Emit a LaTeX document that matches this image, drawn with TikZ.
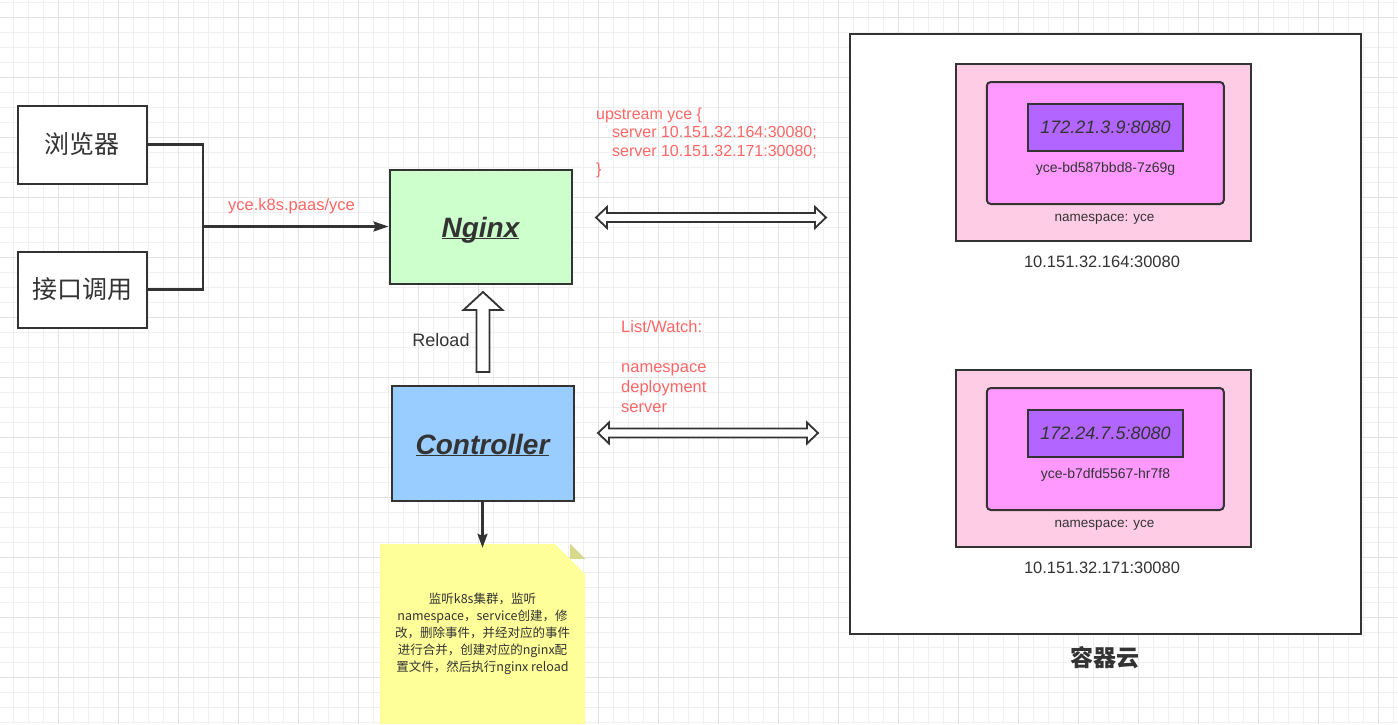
\documentclass[tikz,border=0pt]{standalone}
\usepackage{fontspec}
\setmainfont{Liberation Sans}
\newfontfamily\cjk{Noto Sans CJK SC}
\usetikzlibrary{arrows.meta,calc,shapes.misc}

\definecolor{linegray}{HTML}{333333}
\definecolor{redtext}{HTML}{FF6666}
\definecolor{nginxgreen}{HTML}{CCFFCC}
\definecolor{ctrlblue}{HTML}{99CCFF}
\definecolor{noteyellow}{HTML}{FFFF99}
\definecolor{notefold}{HTML}{D9D98C}
\definecolor{nspink}{HTML}{FFCCE6}
\definecolor{podpink}{HTML}{FF99FF}
\definecolor{ippurple}{HTML}{B266FF}
\definecolor{gridminor}{HTML}{F0F0F0}
\definecolor{gridmajor}{HTML}{E2E2E2}

\begin{document}
\begin{tikzpicture}[x=1pt,y=-1pt,
    box/.style={draw=linegray,line width=2pt,fill=white,inner sep=0pt,text=linegray},
    conn/.style={draw=linegray,line width=2.2pt},
    blockarrow/.style={draw=linegray,line width=1.8pt,fill=white,line join=miter},
    redlabel/.style={text=redtext,align=left,inner sep=0pt,font=\fontsize{16}{18.5}\selectfont},
    graylabel/.style={text=linegray,inner sep=0pt},
    boldtitle/.style={font=\fontsize{28}{32}\selectfont\bfseries\itshape,text height=21pt,text depth=0pt},
    notebox/.style={chamfered rectangle,chamfered rectangle corners=north east,chamfered rectangle sep=15pt,
        fill=noteyellow,minimum width=205pt,minimum height=180pt,inner sep=0pt,align=center,text=linegray,
        font=\cjk\fontsize{12.5}{17}\selectfont}]
    \useasboundingbox (0,0) rectangle (1398,724);
    % grid paper
    \fill[white] (0,0) rectangle (1398,724);
    \foreach \gx in {13,28,...,1398} \draw[gridminor,line width=1pt] (\gx,0) -- (\gx,724);
    \foreach \gy in {2,17,...,724} \draw[gridminor,line width=1pt] (0,\gy) -- (1398,\gy);
    \foreach \gx in {58,118,...,1398} \draw[gridmajor,line width=1pt] (\gx,0) -- (\gx,724);
    \foreach \gy in {17,77,...,724} \draw[gridmajor,line width=1pt] (0,\gy) -- (1398,\gy);

    % clients
    \node[box,minimum width=129pt,minimum height=78pt,font=\cjk\fontsize{25}{30}\selectfont] (browser) at (82,144.5) {浏览器};
    \node[box,minimum width=129pt,minimum height=76pt,font=\cjk\fontsize{25}{30}\selectfont] (api) at (82,289.5) {接口调用};
    \node[box,boldtitle,fill=nginxgreen,minimum width=182pt,minimum height=114pt] (nginx) at (480.5,226.5)
        {\underline{\smash{Nginx}}};
    \node[box,boldtitle,fill=ctrlblue,minimum width=182pt,minimum height=115pt] (controller) at (482.5,443.5)
        {\underline{\smash{Controller}}};

    \coordinate (join) at (203,226.5);
    \draw[conn] (browser.east) -| (join);
    \draw[conn] (api.east) -| (join);
    \draw[conn,-{Stealth[length=15pt,width=10pt,inset=2pt]}] (join) -- (nginx.west);
    \node[redlabel,anchor=base,font=\fontsize{16.5}{18.5}\selectfont] (host) at (291.5,210) {yce.k8s.paas/yce};

    % reload
    \coordinate (rltop) at (483,292);
    \coordinate (rlbot) at (483,372);
    \draw[blockarrow] (rltop) -- ++(19.5,18) -- ++(-13,0) -- ($(rlbot)+(6.5,0)$) -- ++(-13,0)
        -- ($(rltop)+(-6.5,18)$) -- ++(-13,0) -- cycle;
    \node[graylabel,font=\fontsize{18}{20}\selectfont] (reload) at (441,340) {Reload};

    % note
    \node[notebox] (note) at (482.5,634)
        {监听k8s集群，监听\\namespace，service创建，修\\改，删除事件，并经对应的事件\\进行合并，创建对应的nginx配\\置文件，然后执行nginx reload};
    \fill[notefold] ($(note.north -| note.east)+(-15,0)$) -- ++(0,15) -- ++(15,0) -- cycle;
    \draw[conn,-{Stealth[length=14pt,width=10pt,inset=2pt]}] (controller.south) -- ($(note.north)+(0,4)$);

    % upstream / list-watch
    \node[redlabel,anchor=north west] (upstream) at (596,107.5)
        {upstream yce \{\\\hspace*{16pt}server 10.151.32.164:30080;\\\hspace*{16pt}server 10.151.32.171:30080;\\\}};
    \node[redlabel,anchor=north west,font=\fontsize{16.5}{20}\selectfont] (listwatch) at (621,320)
        {List/Watch:\\[20pt]namespace\\deployment\\server};

    \coordinate (upl) at (596,217.5);
    \coordinate (upr) at (826,217.5);
    \draw[blockarrow] (upl) -- ++(11,-10.5) -- ++(0,6) -- ($(upr)+(-11,-4.5)$) -- ++(0,-6) -- (upr)
        -- ++(-11,10.5) -- ++(0,-6) -- ($(upl)+(11,4.5)$) -- ++(0,6) -- cycle;
    \coordinate (lwl) at (598,433);
    \coordinate (lwr) at (818,433);
    \draw[blockarrow] (lwl) -- ++(11,-10.5) -- ++(0,6) -- ($(lwr)+(-11,-4.5)$) -- ++(0,-6) -- (lwr)
        -- ++(-11,10.5) -- ++(0,-6) -- ($(lwl)+(11,4.5)$) -- ++(0,6) -- cycle;

    % container cloud
    \node[box,minimum width=511pt,minimum height=600pt] (cloud) at (1105.5,334) {};
    \node[graylabel,font=\cjk\bfseries\fontsize{23}{26}\selectfont] (cloudname) at (1105,658) {容器云};
    \foreach \i/\oy/\ip/\pod/\addr in {1/0/172.21.3.9:8080/yce-bd587bbd8-7z69g/10.151.32.164:30080,
                                       2/306/172.24.7.5:8080/yce-b7dfd5567-hr7f8/10.151.32.171:30080} {
        \node[box,fill=nspink,minimum width=295pt,minimum height=177pt] (ns\i) at (1103.2,152.5+\oy) {};
        \node[box,fill=podpink,rounded corners=4pt,minimum width=237pt,minimum height=122pt] (pod\i) at (1105.3,143+\oy) {};
        \node[box,fill=ippurple,minimum width=155.5pt,minimum height=47.5pt,font=\fontsize{18}{20}\selectfont\itshape] (ip\i) at (1105.5,127.5+\oy) {\ip};
        \node[graylabel,font=\fontsize{14}{15}\selectfont] (podname\i) at (1105.5,169+\oy) {\pod};
        \node[graylabel,font=\fontsize{13.5}{15}\selectfont] (nsname\i) at (1104.5,219+\oy) {namespace: yce};
        \node[graylabel,font=\fontsize{16.5}{18}\selectfont] (addr\i) at (1102,261.5+\oy) {\addr};
    }
\end{tikzpicture}
\end{document}
